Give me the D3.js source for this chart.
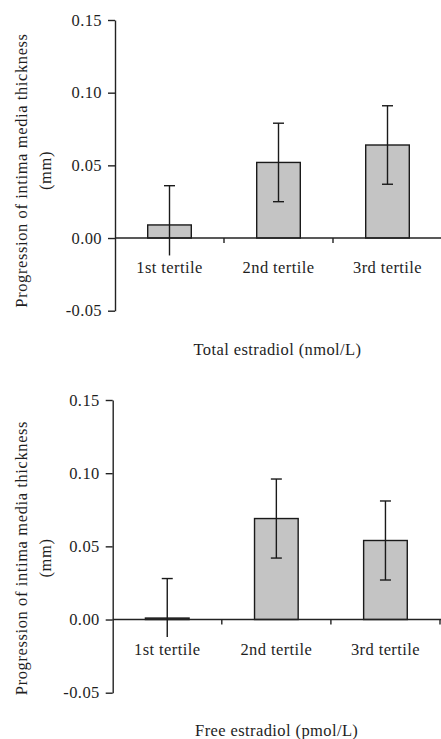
<!DOCTYPE html>
<html>
<head>
<meta charset="utf-8">
<script src="https://cdn.jsdelivr.net/npm/d3@7"></script>
<style>
  html, body { margin: 0; padding: 0; background: #fff; }
  svg text { font-family: "Liberation Serif", "Times New Roman", serif; fill: #1e1e1e; }
</style>
</head>
<body>
<svg id="chart" width="441" height="739"></svg>
<script>
// ---- data ----
const categories = ["1st tertile", "2nd tertile", "3rd tertile"];
const yTickValues = [-0.05, 0.00, 0.05, 0.10, 0.15];
const yTickLabels = ["-0.05", "0.00", "0.05", "0.10", "0.15"];
const yTitleLines = ["Progression of intima media thickness", "(mm)"];

const totalTitle = "Total estradiol (nmol/L)";
const totalMeans = [0.009, 0.052, 0.064];
const totalErrHi = [0.036, 0.079, 0.091];
const totalErrLo = [-0.012, 0.025, 0.037];

const freeTitle = "Free estradiol (pmol/L)";
const freeMeans = [0.001, 0.069, 0.054];
const freeErrHi = [0.028, 0.096, 0.081];
const freeErrLo = [-0.012, 0.042, 0.027];

const svg = d3.select("#chart");
const FS = 16.5;

function drawPanel(opt) {
  const g = svg.append("g");
  const y = d3.scaleLinear().domain([-0.05, 0.15]).range([opt.yBottom, opt.yTop]);
  const x = d3.scaleBand().domain(categories).range([opt.xLeft, opt.xRight])
    .paddingInner(0.6).paddingOuter(0.3);

  // y axis
  const yAxis = d3.axisLeft(y).tickValues(yTickValues)
    .tickFormat((d, i) => yTickLabels[i]).tickSize(7).tickSizeOuter(0).tickPadding(6);
  const ya = g.append("g").attr("transform", `translate(${opt.xLeft},0)`).call(yAxis);
  ya.select(".domain").attr("stroke", "#222").attr("stroke-width", 1.4);
  ya.selectAll(".tick line").attr("stroke", "#222").attr("stroke-width", 1.4);
  ya.selectAll(".tick text").attr("font-size", FS).attr("letter-spacing", 0.4)
    .attr("font-family", "Liberation Serif").attr("fill", "#1e1e1e");

  // bars
  const y0 = y(0);
  g.selectAll("rect.bar").data(opt.means).enter().append("rect")
    .attr("class", "bar")
    .attr("x", (d, i) => x(categories[i]))
    .attr("width", x.bandwidth())
    .attr("y", d => Math.min(y(d), y0))
    .attr("height", d => Math.abs(y0 - y(d)))
    .attr("fill", "#c4c4c4").attr("stroke", "#1a1a1a").attr("stroke-width", 1.4);

  // x axis line
  g.append("line").attr("x1", opt.xLeft).attr("x2", 441).attr("y1", y0).attr("y2", y0)
    .attr("stroke", "#222").attr("stroke-width", 1.4);
  // category boundary ticks
  categories.forEach((c, i) => {
    const bx = x(c) + x.bandwidth() + (x.step() - x.bandwidth()) / 2;
    g.append("line").attr("x1", bx).attr("x2", bx).attr("y1", y0).attr("y2", y0 + 5)
      .attr("stroke", "#222").attr("stroke-width", 1.4);
  });

  // error bars
  const cap = 5.5;
  opt.means.forEach((m, i) => {
    const cx = x(categories[i]) + x.bandwidth() / 2;
    g.append("line").attr("x1", cx).attr("x2", cx)
      .attr("y1", y(opt.hi[i])).attr("y2", y(opt.lo[i]))
      .attr("stroke", "#1a1a1a").attr("stroke-width", 1.4);
    g.append("line").attr("x1", cx - cap).attr("x2", cx + cap)
      .attr("y1", y(opt.hi[i])).attr("y2", y(opt.hi[i]))
      .attr("stroke", "#1a1a1a").attr("stroke-width", 1.4);
    if (opt.lo[i] > 0) {
      g.append("line").attr("x1", cx - cap).attr("x2", cx + cap)
        .attr("y1", y(opt.lo[i])).attr("y2", y(opt.lo[i]))
        .attr("stroke", "#1a1a1a").attr("stroke-width", 1.4);
    }
  });

  // category labels
  g.selectAll("text.cat").data(categories).enter().append("text")
    .attr("class", "cat")
    .attr("x", d => x(d) + x.bandwidth() / 2)
    .attr("y", y0 + 35)
    .attr("text-anchor", "middle")
    .attr("font-size", FS).attr("letter-spacing", 0.4)
    .text(d => d);

  // x title
  g.append("text").attr("x", opt.titleX).attr("y", opt.titleY)
    .attr("text-anchor", "middle").attr("font-size", FS).attr("letter-spacing", 0.4)
    .text(opt.title);

  // y title
  yTitleLines.forEach((t, i) => {
    const tx = (i === 0 ? 26.5 : 50.5);
    g.append("text")
      .attr("transform", `translate(${tx},${opt.yTitleCenter}) rotate(-90)`)
      .attr("text-anchor", "middle").attr("font-size", FS).attr("letter-spacing", 0.6)
      .text(t);
  });
}

drawPanel({
  yTop: 20, yBottom: 310.7, xLeft: 115, xRight: 442,
  means: totalMeans, hi: totalErrHi, lo: totalErrLo,
  title: totalTitle, titleX: 277.5, titleY: 355, yTitleCenter: 170.5
});
drawPanel({
  yTop: 400, yBottom: 692.7, xLeft: 112.7, xRight: 440,
  means: freeMeans, hi: freeErrHi, lo: freeErrLo,
  title: freeTitle, titleX: 276.7, titleY: 736, yTitleCenter: 558
});
</script>
</body>
</html>
